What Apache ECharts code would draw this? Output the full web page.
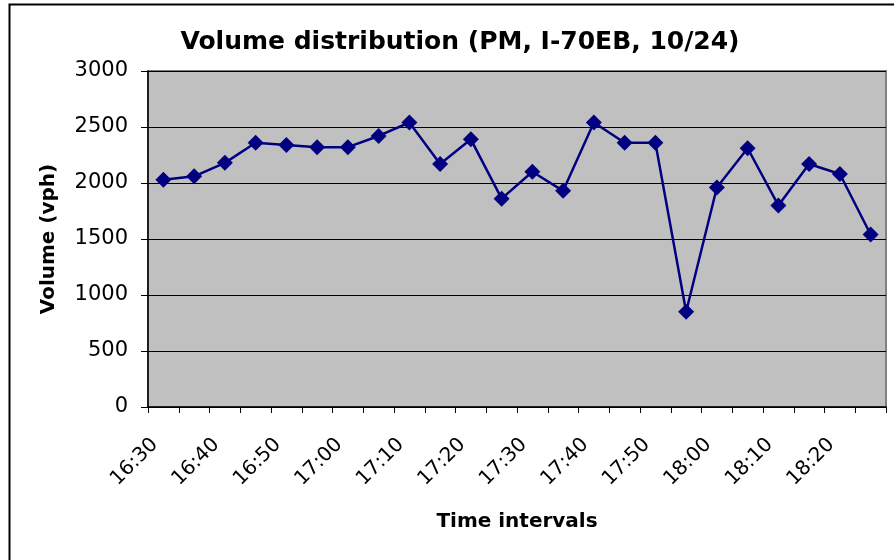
<!DOCTYPE html>
<html>
<head>
<meta charset="utf-8">
<script src="https://cdn.jsdelivr.net/npm/echarts@6/dist/echarts.min.js"></script>
<style>html,body{margin:0;padding:0;background:#fff}#c{width:894px;height:560px}</style>
</head>
<body>
<div id="c"></div>
<script>
const categories = ['16:30','16:35','16:40','16:45','16:50','16:55','17:00','17:05','17:10','17:15','17:20','17:25','17:30','17:35','17:40','17:45','17:50','17:55','18:00','18:05','18:10','18:15','18:20','18:25'];
const volumes = [2030,2060,2180,2360,2340,2320,2320,2420,2540,2170,2390,1860,2100,1930,2540,2360,2360,850,1960,2310,1800,2170,2080,1540];
const yTicks = [0,500,1000,1500,2000,2500,3000];
const titleText = 'Volume distribution (PM, I-70EB, 10/24)';
const xName = 'Time intervals';
const yName = 'Volume (vph)';

const chart = echarts.init(document.getElementById('c'), null, {renderer:'canvas'});
const font = '"DejaVu Sans", Arial, sans-serif';
chart.setOption({
  animation: false,
  backgroundColor: '#ffffff',
  title: {
    text: titleText, left: 455, top: 25, textAlign: 'center',
    textStyle: {fontFamily: font, fontSize: 25, fontWeight: 'bold', color: '#000'}
  },
  graphic: [
    {type:'rect', shape:{x:9.5, y:4.5, width:900, height:600}, style:{fill:'none', stroke:'#000', lineWidth:2}, silent:true, z:-10}
  ],
  grid: {left:148, right:8, top:71, bottom:153, show:true, backgroundColor:'#C0C0C0', borderColor:'#808080', borderWidth:2},
  xAxis: {
    type:'category', data: categories, boundaryGap:true,
    name: xName, nameLocation:'middle', nameGap:105,
    nameTextStyle:{fontFamily:font, fontSize:20, fontWeight:'bold', color:'#000'},
    axisLine:{lineStyle:{color:'#000', width:1.5}},
    axisTick:{show:true, interval:0, length:6, lineStyle:{color:'#000'}},
    axisLabel:{interval:1, rotate:45, fontFamily:font, fontSize:20, color:'#000', margin:26, padding:[0,12,0,0]},
    splitLine:{show:false}
  },
  yAxis: {
    type:'value', min: yTicks[0], max: yTicks[yTicks.length-1], interval: 500,
    name: yName, nameLocation:'middle', nameGap:89,
    nameTextStyle:{fontFamily:font, fontSize:20, fontWeight:'bold', color:'#000'},
    axisLine:{show:true, lineStyle:{color:'#000', width:1.5}},
    axisTick:{show:true, length:7, lineStyle:{color:'#000'}},
    axisLabel:{fontFamily:font, fontSize:21, color:'#000', margin:20, formatter: v => String(v)},
    splitLine:{show:true, lineStyle:{color:'#000', width:1}}
  },
  series: [{
    type:'line', data: volumes,
    symbol:'diamond', symbolSize:16,
    lineStyle:{color:'#000080', width:2.5},
    itemStyle:{color:'#000080'}
  }]
});
</script>
</body>
</html>
